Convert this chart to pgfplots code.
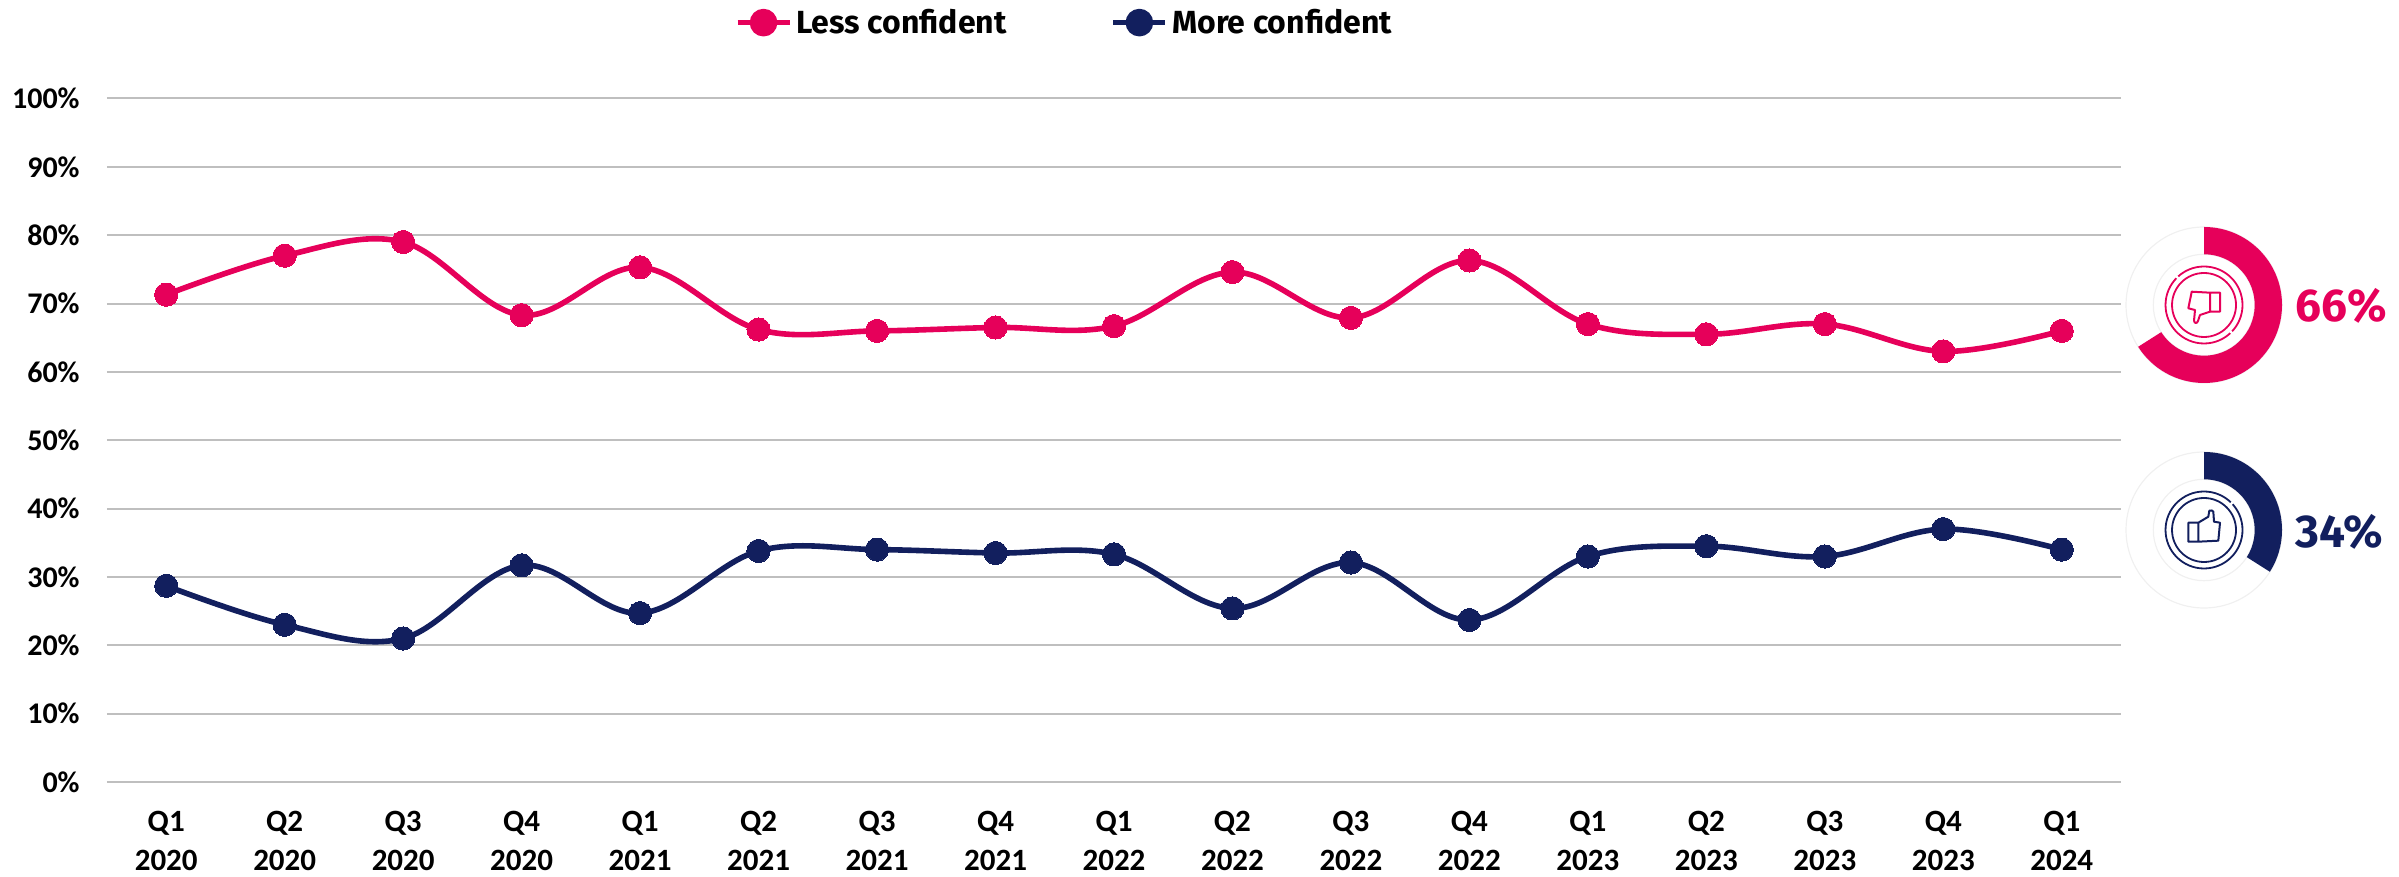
\documentclass[border=0pt]{standalone}
\usepackage{fontspec}
\setmainfont{Carlito}
\newfontfamily\din{Fira Sans}
\usepackage{pgfplots}
\pgfplotsset{compat=1.18}
\usepackage{pgfplotstable}
\definecolor{pinkc}{HTML}{E6005A}
\definecolor{navyc}{HTML}{121F5E}
\definecolor{gridc}{HTML}{BFBFBF}
\definecolor{trackc}{HTML}{F0F0F0}

\pgfplotstableread{
x less more
0 71.3 28.7
1 77.0 23.0
2 79.0 21.0
3 68.3 31.7
4 75.3 24.7
5 66.2 33.8
6 66.0 34.0
7 66.5 33.5
8 66.7 33.3
9 74.6 25.4
10 67.9 32.1
11 76.3 23.7
12 67.0 33.0
13 65.5 34.5
14 67.0 33.0
15 63.0 37.0
16 66.0 34.0
}\conf

\begin{document}
\begin{tikzpicture}
\path[use as bounding box] (0,0) rectangle (1199.5pt,438.5pt);
\begin{axis}[
    at={(53.5pt,47.5pt)},
    anchor=south west,
    scale only axis,
    width=1007pt,
    height=341.75pt,
    xmin=-0.5, xmax=16.5,
    ymin=0, ymax=100,
    xtick={0,...,16},
    xticklabels={Q1\\2020,Q2\\2020,Q3\\2020,Q4\\2020,Q1\\2021,Q2\\2021,Q3\\2021,Q4\\2021,Q1\\2022,Q2\\2022,Q3\\2022,Q4\\2022,Q1\\2023,Q2\\2023,Q3\\2023,Q4\\2023,Q1\\2024},
    ytick={0,10,...,100},
    yticklabel={\pgfmathprintnumber{\tick}\%},
    /pgf/number format/assume math mode=true,
    major tick length=0pt,
    tick style={draw=none},
    axis line style={draw=none},
    ymajorgrids,
    grid style={gridc,line width=1pt},
    x tick label style={font=\fontsize{15.5}{19.25}\selectfont\bfseries,align=center,inner sep=0pt,yshift=-14.5pt},
    y tick label style={font=\fontsize{15}{19}\selectfont\bfseries,inner sep=0pt,xshift=-13.5pt},
    legend columns=2,
    legend style={at={(0.3115,1.111)},anchor=west,draw=none,fill=none,inner sep=0pt,
        font=\din\fontsize{16}{18}\selectfont\bfseries,
        /tikz/every even column/.append style={column sep=50pt}},
    legend cell align=left,
    legend image code/.code={
        \draw[#1,mark=none] (0cm,0cm) -- (26pt,0cm);
        \fill[#1,mark=none] (13pt,0cm) circle (5.5pt);
    },
]
\addplot[pinkc,line width=2.8pt,smooth,tension=0.6,mark=*,mark size=5.8pt,mark options={fill=pinkc,draw=pinkc,line width=0pt}] table[x=x,y=less] {\conf};
\addlegendentry{Less confident}
\addplot[navyc,line width=2.8pt,smooth,tension=0.6,mark=*,mark size=5.8pt,mark options={fill=navyc,draw=navyc,line width=0pt}] table[x=x,y=more] {\conf};
\addlegendentry{More confident}
\end{axis}

% donuts and icons, in reference pixels measured from the bottom left
\begin{scope}[x=0.5pt,y=0.5pt]
  \begin{scope}[shift={(2204,572)}]
    \draw[trackc,line width=0.6pt] (0,0) circle (78) (0,0) circle (50.7);
    \fill[pinkc] (90:78) arc[start angle=90,end angle=-147.6,radius=78]
        -- (-147.6:50.7) arc[start angle=-147.6,end angle=90,radius=50.7] -- cycle;
    \draw[pinkc,line width=0.9pt] (0,0) circle (38.5) (0,0) circle (32);
    \draw[white,line width=1.2pt] (134:36.5) -- (134:40.5) (-45:36.5) -- (-45:40.5);
    \draw[pinkc,line width=1pt,line join=round]
        (6,12.3) -- (-12.3,13.3) -- (-15.7,-3.3) -- (-9,-5) -- (-10,-15.7)
        .. controls (-9.5,-18.5) and (-7.3,-19) .. (-6,-16) -- (-4,-10) -- (6,-6.7)
        -- (16,-6.7) -- (16,12.3) -- cycle (6,12.3) -- (6,-6.7);
    \node[anchor=base west,inner sep=0pt,text=pinkc,font=\din\fontsize{23}{24}\selectfont\bfseries] at (91,-17) {66\%};
  \end{scope}
  \begin{scope}[shift={(2204,347)}]
    \draw[trackc,line width=0.6pt] (0,0) circle (78) (0,0) circle (50.7);
    \fill[navyc] (90:78) arc[start angle=90,end angle=-32.4,radius=78]
        -- (-32.4:50.7) arc[start angle=-32.4,end angle=90,radius=50.7] -- cycle;
    \draw[navyc,line width=0.9pt] (0,0) circle (38.5) (0,0) circle (32);
    \draw[white,line width=1.2pt] (44:36.5) -- (44:40.5);
    \draw[navyc,line width=1pt,line join=round]
        (-15.7,7.3) -- (-5.7,7.3) -- (-5.7,-11.7) -- (-15.7,-11.7) -- cycle
        (-5.7,7.3) -- (4.3,13.3) -- (5.3,19.3)
        .. controls (7,20) and (9,19.5) .. (9.3,18.3) -- (10,8.3) -- (16,7.3) -- (14.3,-10.7) -- (-5.7,-11.7);
    \node[anchor=base west,inner sep=0pt,text=navyc,font=\din\fontsize{23}{24}\selectfont\bfseries] at (91,-18) {34\%};
  \end{scope}
\end{scope}
\end{tikzpicture}
\end{document}
